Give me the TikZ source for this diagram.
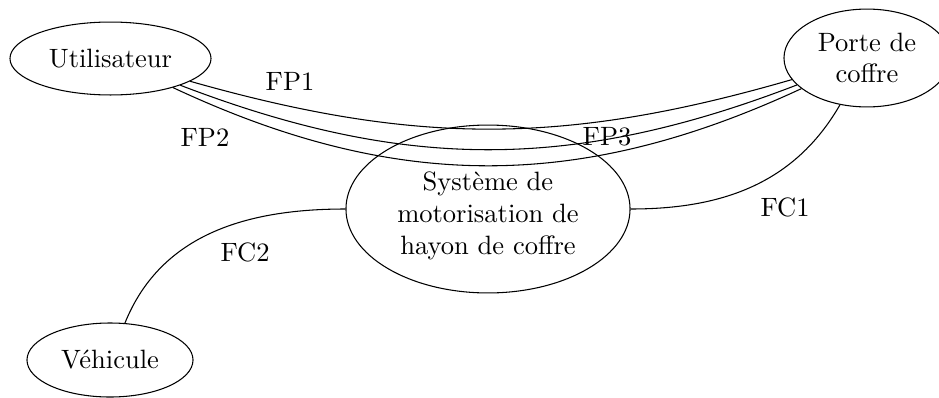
\documentclass[tikz,border=0pt]{standalone}
\usetikzlibrary{shapes.geometric}
\begin{document}
\begin{tikzpicture}[x=0.377pt,y=0.377pt,
  ent/.style={draw, ellipse, inner sep=0pt, align=center},
  lbl/.style={inner sep=0pt}]
\useasboundingbox (0,0) rectangle (939,-397);
% entities
\node[ent, minimum width=75.8pt, minimum height=27.5pt] (util) at (110.5,-58.5) {Utilisateur};
\node[ent, minimum width=62.6pt, minimum height=36.9pt] (porte) at (867,-58) {Porte de\\coffre};
\node[ent, minimum width=107.1pt, minimum height=63.3pt] (sys) at (488,-209) {};
\node[align=center, inner sep=0pt] (systxt) at (488,-216) {Système de\\motorisation de\\hayon de coffre};
\node[ent, minimum width=62.6pt, minimum height=27.9pt] (veh) at (110,-360) {Véhicule};
% connectors
\draw (util) to[bend right=16] (porte);
\draw (util) to[bend right=21] (porte);
\draw (util) to[bend right=25] (porte);
\draw (sys) to[out=0,in=240] (porte);
\draw (sys) to[out=180,in=68] (veh);
% labels
\node[lbl] (fp1) at (290,-81) {FP1};
\node[lbl] (fp2) at (205,-137) {FP2};
\node[lbl] (fp3) at (607,-137) {FP3};
\node[lbl] (fc1) at (785,-207) {FC1};
\node[lbl] (fc2) at (245,-252) {FC2};
\end{tikzpicture}
\end{document}
